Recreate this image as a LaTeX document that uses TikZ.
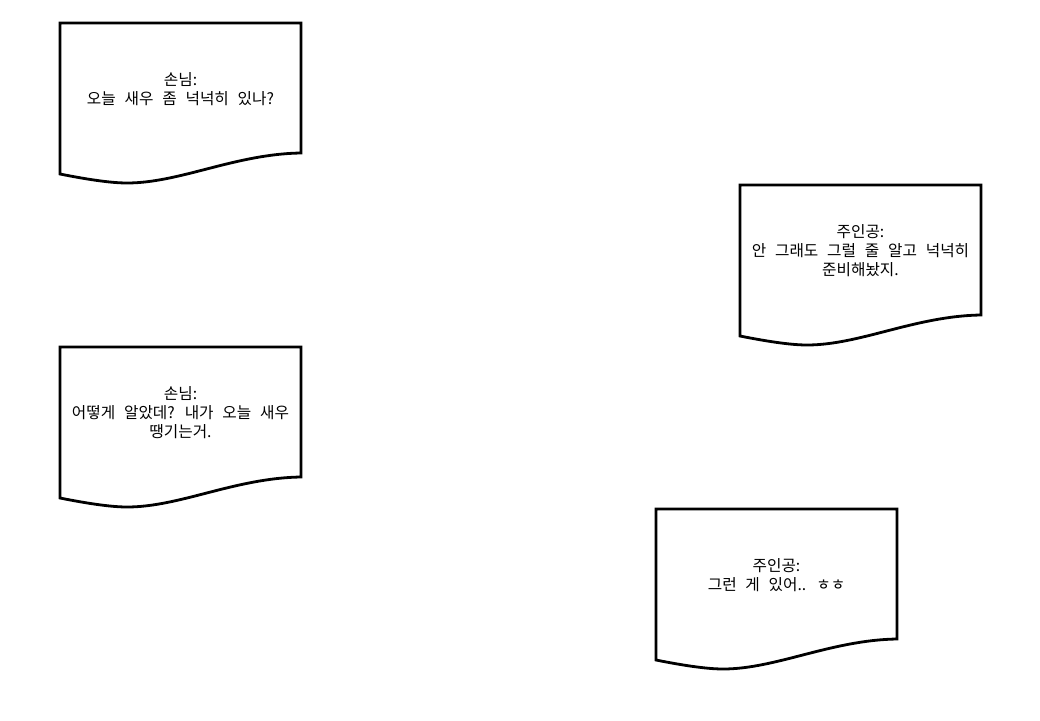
\documentclass[tikz,border=0pt]{standalone}
\usepackage{fontspec}
\newfontfamily\kr[WordSpace=2.5]{Noto Sans CJK KR}
\tikzset{
  docline/.style={draw=black, line width=2.8pt, line join=miter, fill=white},
  doctext/.style={align=center, inner sep=0pt, text=black,
    font=\kr\fontsize{15.7}{19}\selectfont}
}
\newcommand\docbox[4]{%
  \begin{scope}[shift={(#2,#3)}]
    \draw[docline] (0,0) -- (241,0) -- (241,130)
      .. controls (175,131) and (120,160) .. (67,160)
      .. controls (50,160) and (25,156) .. (0,151) -- cycle;
    \node[doctext] (#1) at (120.5,66) {#4};
  \end{scope}}
\begin{document}
\begin{tikzpicture}[x=1pt,y=-1pt]
  \useasboundingbox (0,0) rectangle (1040,720);
  \docbox{q1}{60}{23}{손님:\\오늘 새우 좀 넉넉히 있나?}
  \docbox{a1}{740}{185}{주인공:\\안 그래도 그럴 줄 알고 넉넉히\\준비해놨지.}
  \docbox{q2}{60}{347}{손님:\\어떻게 알았데? 내가 오늘 새우\\땡기는거.}
  \docbox{a2}{656}{509}{주인공:\\그런 게 있어.. ㅎㅎ}
\end{tikzpicture}
\end{document}
